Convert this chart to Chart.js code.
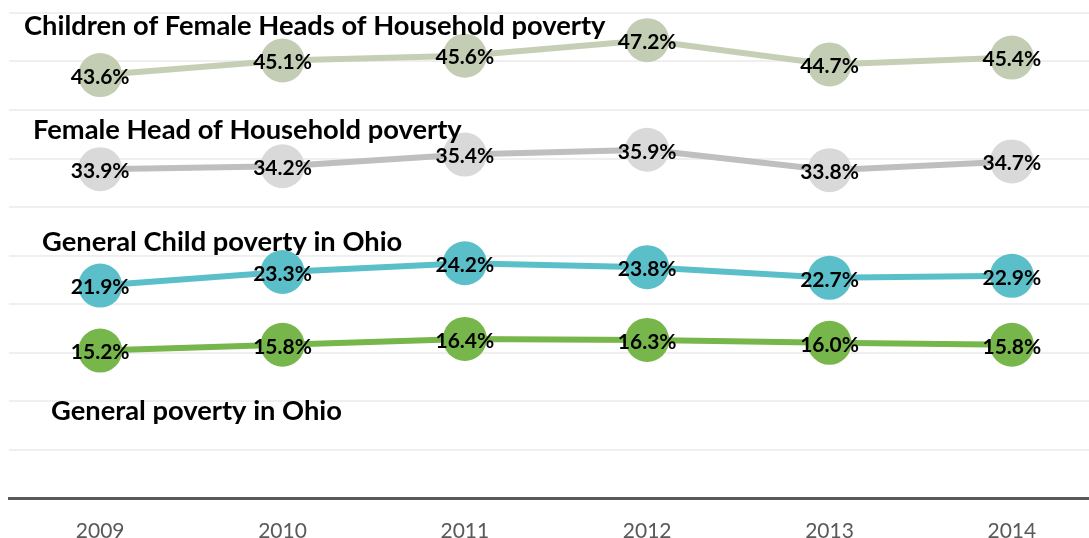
<!DOCTYPE html>
<html>
<head>
<meta charset="utf-8">
<script src="https://cdn.jsdelivr.net/npm/chart.js@4.4.1/dist/chart.umd.min.js"></script>
<style>
    body { margin: 0; overflow: hidden; background: #ffffff; }
    #wrap { position: absolute; left: 0; top: 0; }
</style>
</head>
<body>
<div id="wrap"><canvas id="graficoPobreza" width="1104" height="538"></canvas></div>
<script>
// anos e taxas de pobreza (%)
const anos = ['2009', '2010', '2011', '2012', '2013', '2014'];
const filhosChefeFeminina = [43.6, 45.1, 45.6, 47.2, 44.7, 45.4];
const chefeFeminina = [33.9, 34.2, 35.4, 35.9, 33.8, 34.7];
const pobrezaInfantil = [21.9, 23.3, 24.2, 23.8, 22.7, 22.9];
const pobrezaGeral = [15.2, 15.8, 16.4, 16.3, 16.0, 15.8];

const nomesSeries = [
    'Children of Female Heads of Household poverty',
    'Female Head of Household poverty',
    'General Child poverty in Ohio',
    'General poverty in Ohio'
];

// onde fica o nome de cada serie (x em px a partir da esquerda, y no valor do eixo)
const posNomes = [
    { x: 24, y: 48.6 },
    { x: 33, y: 37.9 },
    { x: 42, y: 26.4 },
    { x: 51, y: 9.0 }
];

function serie(nome, dados, corLinha, corPonto){
    return {
        label: nome,
        data: dados,
        borderColor: corLinha,
        backgroundColor: corPonto,
        pointBackgroundColor: corPonto,
        pointBorderWidth: 0,
        pointRadius: 22,
        pointHoverRadius: 22,
        borderWidth: 6,
        tension: 0
    };
}

// escreve o valor em cima de cada bolinha
const rotulosValores = {
    id: 'rotulosValores',
    afterDatasetsDraw(chart){
        const ctx = chart.ctx;
        ctx.save();
        ctx.font = 'bold 21px Lato';
        ctx.fillStyle = '#000000';
        ctx.textAlign = 'center';
        ctx.textBaseline = 'middle';
        chart.data.datasets.forEach((ds, i) => {
            chart.getDatasetMeta(i).data.forEach((ponto, j) => {
                ctx.fillText(ds.data[j].toFixed(1) + '%', ponto.x, ponto.y + 2);
            });
        });
        ctx.restore();
    }
};

// nomes das series escritos dentro do grafico
const nomesNoGrafico = {
    id: 'nomesNoGrafico',
    afterDatasetsDraw(chart){
        const ctx = chart.ctx;
        const y = chart.scales.y;
        ctx.save();
        ctx.font = 'bold 27.3px Lato';
        ctx.fillStyle = '#000000';
        ctx.textAlign = 'left';
        ctx.textBaseline = 'middle';
        nomesSeries.forEach((nome, i) => {
            ctx.fillText(nome, posNomes[i].x, y.getPixelForValue(posNomes[i].y));
        });
        ctx.restore();
    }
};

const config = {
    type: 'line',
    data: {
        labels: anos,
        datasets: [
            serie(nomesSeries[0], filhosChefeFeminina, '#C5CFB6', '#C3CDB3'),
            serie(nomesSeries[1], chefeFeminina, '#BFBFBF', '#D9D9D9'),
            serie(nomesSeries[2], pobrezaInfantil, '#5BBFCA', '#5BBFCA'),
            serie(nomesSeries[3], pobrezaGeral, '#77B64A', '#77B64A')
        ]
    },
    options: {
        responsive: false,
        animation: false,
        devicePixelRatio: 1,
        layout: { autoPadding: false, padding: { left: 9, top: 13, right: 1, bottom: 0 } },
        plugins: {
            legend: { display: false },
            tooltip: { enabled: false }
        },
        scales: {
            x: {
                offset: true,
                grid: { display: false, drawTicks: false },
                border: { display: true, color: '#595959', width: 3 },
                ticks: {
                    color: '#595959',
                    font: { family: 'Lato', size: 21 },
                    padding: 21
                },
                afterFit(escala){ escala.height = 40; }
            },
            y: {
                min: 0,
                max: 50,
                ticks: { display: false, stepSize: 5 },
                grid: { color: '#EFEFEF', lineWidth: 2, drawTicks: false },
                border: { display: false },
                afterFit(escala){ escala.width = 0; }
            }
        }
    },
    plugins: [rotulosValores, nomesNoGrafico]
};

const grafico = new Chart(document.getElementById('graficoPobreza').getContext('2d'), config);
</script>
</body>
</html>
